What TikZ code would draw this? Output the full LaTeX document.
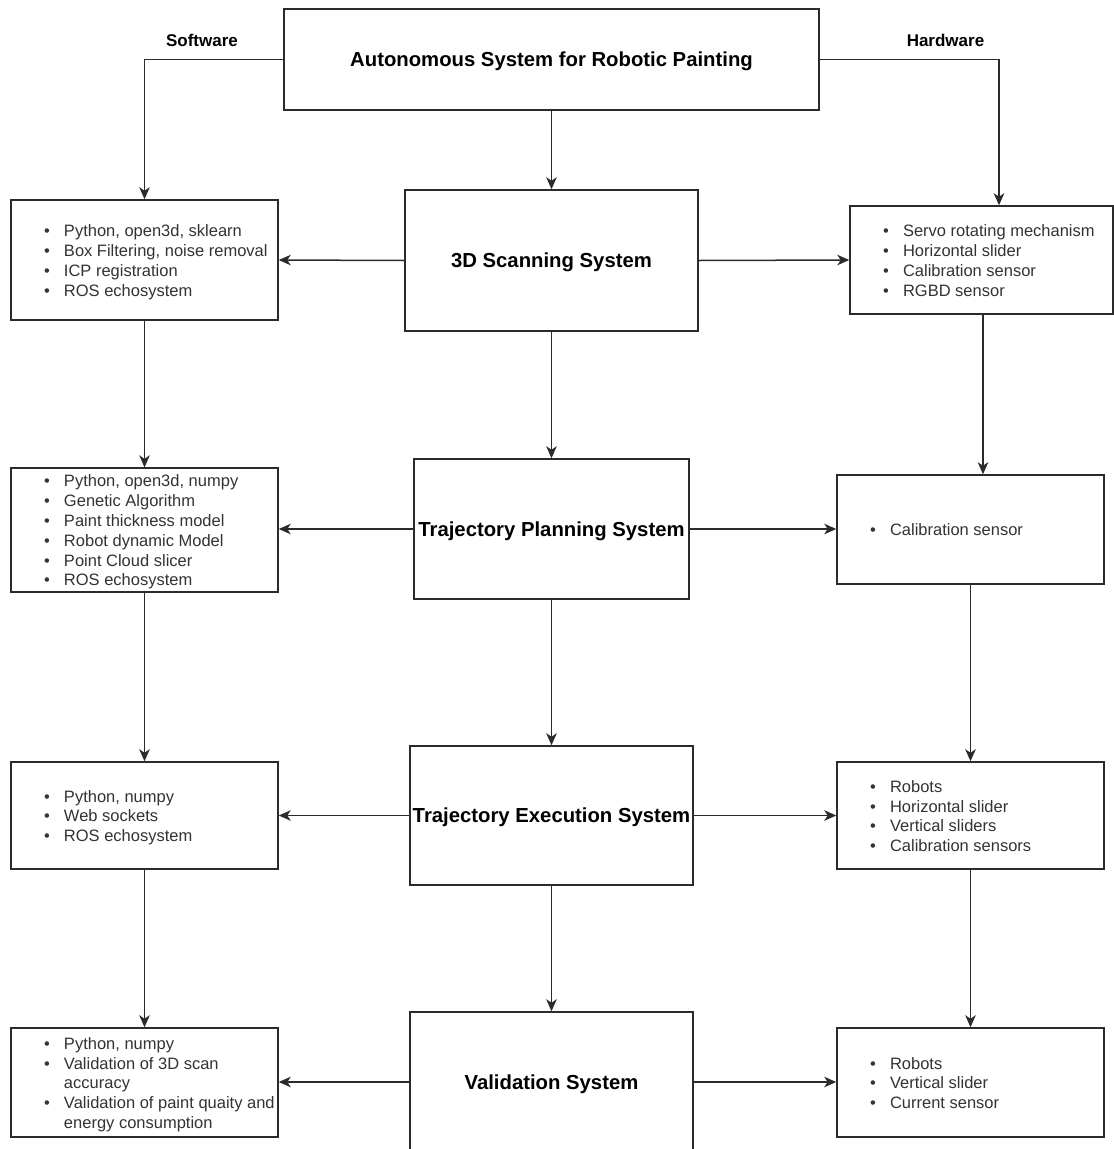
\documentclass[tikz,border=0pt]{standalone}
\usepackage{fontspec}
\setmainfont{Liberation Sans}
\usetikzlibrary{arrows.meta}

\definecolor{linec}{HTML}{2B2B2B}
\definecolor{listc}{HTML}{333333}

% one bulleted line, and a continuation line of the same item
\newcommand\itm[1]{\hbox to \hsize{\strut\hspace*{33pt}\makebox[20pt][l]{\textbullet}#1\hfil}}
\newcommand\cont[1]{\hbox to \hsize{\strut\hspace*{53pt}#1\hfil}}
% a bullet list set in a block of fixed width
\newcommand\blist[2]{\parbox{#1}{\fontsize{16.5}{19.8}\selectfont\kern5pt #2}}

\tikzset{
  sysbox/.style={draw=linec, line width=1.5pt, fill=white, inner sep=0pt,
    text height=14.5pt, text depth=0pt,
    font=\fontsize{20.3}{24}\selectfont\bfseries, text=black},
  listbox/.style={draw=linec, line width=1.5pt, fill=white, inner sep=0pt,
    text=listc},
  branch/.style={font=\fontsize{17}{20}\selectfont\bfseries, text=black},
  arr/.style={draw=linec, line width=1.5pt,
    -{Stealth[length=12pt,width=10.5pt,inset=3.5pt]}},
}

\begin{document}
\begin{tikzpicture}[x=1pt,y=-1pt]
\useasboundingbox[fill=white] (0,0) rectangle (1114,1149);

% central column: the system and its subsystems
\node[sysbox, minimum width=535pt, minimum height=101pt] (top) at (551.5,59.5)
  {Autonomous System for Robotic Painting};
\node[sysbox, minimum width=293pt, minimum height=141pt] (scan) at (551.5,260.5)
  {3D Scanning System};
\node[sysbox, minimum width=275pt, minimum height=140pt] (plan) at (551.5,529)
  {Trajectory Planning System};
\node[sysbox, minimum width=283pt, minimum height=139pt] (exec) at (551.5,815.5)
  {Trajectory Execution System};
\node[sysbox, minimum width=283pt, minimum height=140pt] (valid) at (551.5,1082)
  {Validation System};

% branch labels
\node[branch] (sw) at (202,40) {Software};
\node[branch] (hw) at (945.5,40) {Hardware};

% software column
\node[listbox, minimum height=120pt] (s1) at (144.5,260) {\blist{267pt}{%
  \itm{Python, open3d, sklearn}
  \itm{Box Filtering, noise removal}
  \itm{ICP registration}
  \itm{ROS echosystem}}};
\node[listbox, minimum height=122pt] (s2) at (144.5,530) {\blist{267pt}{%
  \itm{Python, open3d, numpy}
  \itm{Genetic Algorithm}
  \itm{Paint thickness model}
  \itm{Robot dynamic Model}
  \itm{Point Cloud slicer}
  \itm{ROS echosystem}}};
\node[listbox, minimum height=107pt] (s3) at (144.5,815.5) {\blist{267pt}{%
  \itm{Python, numpy}
  \itm{Web sockets}
  \itm{ROS echosystem}}};
\node[listbox, minimum height=109pt] (s4) at (144.5,1082.5) {\blist{267pt}{%
  \itm{Python, numpy}
  \itm{Validation of 3D scan}
  \cont{accuracy}
  \itm{Validation of paint quaity and}
  \cont{energy consumption}}};

% hardware column
\node[listbox, minimum height=108pt] (h1) at (981.5,260) {\blist{263pt}{%
  \itm{Servo rotating mechanism}
  \itm{Horizontal slider}
  \itm{Calibration sensor}
  \itm{RGBD sensor}}};
\node[listbox, minimum height=109pt] (h2) at (970.5,529.5) {\blist{267pt}{%
  \itm{Calibration sensor}}};
\node[listbox, minimum height=107pt] (h3) at (970.5,815.5) {\blist{267pt}{%
  \itm{Robots}
  \itm{Horizontal slider}
  \itm{Vertical sliders}
  \itm{Calibration sensors}}};
\node[listbox, minimum height=109pt] (h4) at (970.5,1082.5) {\blist{267pt}{%
  \itm{Robots}
  \itm{Vertical slider}
  \itm{Current sensor}}};

% connectors from the system box
\draw[arr] (top.west) -| (s1.north);
\draw[arr] (top.east) -| ([xshift=17.5pt]h1.north);
\draw[arr] (top.south) -- (scan.north);

% subsystem chain
\draw[arr] (scan.south) -- (plan.north);
\draw[arr] (plan.south) -- (exec.north);
\draw[arr] (exec.south) -- (valid.north);

% software chain
\draw[arr] (s1.south) -- (s2.north);
\draw[arr] (s2.south) -- (s3.north);
\draw[arr] (s3.south) -- (s4.north);

% hardware chain
\draw[arr] ([xshift=1.5pt]h1.south) -- ([xshift=12.5pt]h2.north);
\draw[arr] (h2.south) -- (h3.north);
\draw[arr] (h3.south) -- (h4.north);

% subsystems to their software and hardware
\draw[arr] (scan.west) -- (s1.east);
\draw[arr] (scan.east) -- (h1.west);
\draw[arr] (plan.west) -- (s2.east |- plan.west);
\draw[arr] (plan.east) -- (h2.west |- plan.east);
\draw[arr] (exec.west) -- (s3.east);
\draw[arr] (exec.east) -- (h3.west);
\draw[arr] (valid.west) -- (s4.east |- valid.west);
\draw[arr] (valid.east) -- (h4.west |- valid.east);
\end{tikzpicture}
\end{document}
